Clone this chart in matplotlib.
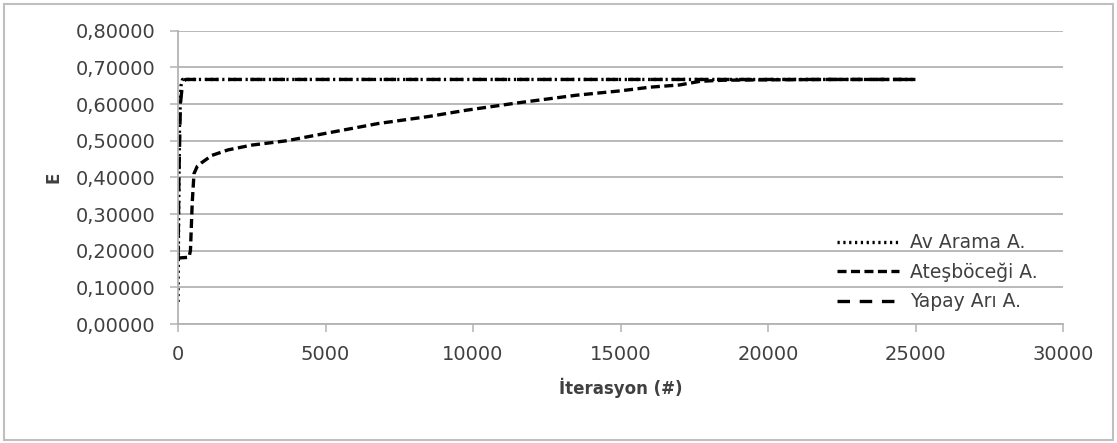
import matplotlib.pyplot as plt
from matplotlib.patches import Rectangle

plt.rcParams['font.family'] = ['DejaVu Sans']
plt.rcParams['lines.scale_dashes'] = False

# ---------------------------------------------------------------
# data
av_x = [0, 20, 50, 100, 150, 25000]
av_y = [0.060, 0.300, 0.550, 0.650, 0.667, 0.667]

ates_x = [0, 370, 420, 480, 540, 650, 800, 1150, 1700, 2500, 3700, 5000,
          6800, 8500, 9760, 11500, 13500, 15000, 16000, 17000, 17700,
          18500, 20000, 22000, 25000]
ates_y = [0.180, 0.182, 0.200, 0.330, 0.410, 0.430, 0.440, 0.460, 0.475,
          0.488, 0.500, 0.520, 0.547, 0.566, 0.583, 0.603, 0.624, 0.636,
          0.646, 0.652, 0.662, 0.665, 0.666, 0.667, 0.667]

arı_x = [0, 30, 80, 150, 250, 25000]
arı_y = [0.180, 0.400, 0.600, 0.655, 0.667, 0.667]

labels = ['Av Arama A.', 'Ateşböceği A.', 'Yapay Arı A.']
yticks = [0.0, 0.1, 0.2, 0.3, 0.4, 0.5, 0.6, 0.7, 0.8]
ytick_labels = ['0,00000', '0,10000', '0,20000', '0,30000', '0,40000',
                '0,50000', '0,60000', '0,70000', '0,80000']
xticks = [0, 5000, 10000, 15000, 20000, 25000, 30000]
# ---------------------------------------------------------------

fig = plt.figure(figsize=(11.17, 4.43), dpi=100)
ax = fig.add_axes([0.1594, 0.2686, 0.7923, 0.6621])

grid_c = '#b3b3b3'
ax.plot(av_x, av_y, color='black', lw=2.4, dashes=(1.6, 2.6), label=labels[0])
ax.plot(ates_x, ates_y, color='black', lw=2.4, dashes=(6.5, 3.2), label=labels[1])
ax.plot(arı_x, arı_y, color='black', lw=2.4, dashes=(9, 7), label=labels[2])

ax.set_xlim(0, 30000)
ax.set_ylim(0, 0.8)
ax.set_yticks(yticks)
ax.set_yticklabels(ytick_labels)
ax.set_xticks(xticks)
ax.set_xticklabels([str(t) for t in xticks])
ax.grid(axis='y', color=grid_c, lw=1.3)
ax.set_axisbelow(True)
for s in ['top', 'right']:
    ax.spines[s].set_visible(False)
for s in ['left', 'bottom']:
    ax.spines[s].set_color(grid_c)
    ax.spines[s].set_linewidth(1.3)
ax.tick_params(axis='both', colors='#404040', labelsize=14, length=6,
               width=1.1, direction='out')
ax.tick_params(axis='both', color=grid_c)
ax.tick_params(axis='y', pad=10)
ax.tick_params(axis='x', pad=9)

ax.set_xlabel('İterasyon (#)', fontsize=12, fontweight='bold', color='#404040', labelpad=10)
ax.set_ylabel('E', fontsize=12, fontweight='bold', color='#404040', labelpad=10)

ax.legend(loc='upper left', bbox_to_anchor=(0.745, 0.31), frameon=False,
          fontsize=13.5, handlelength=3.3, handletextpad=0.6, labelspacing=0.55,
          borderpad=0, borderaxespad=0, labelcolor='#404040')

fig.patches.append(Rectangle((0.004, 0.006), 0.992, 0.984, transform=fig.transFigure,
                             fill=False, edgecolor='#bfbfbf', lw=1.5))

fig.savefig('out.png', dpi=100)
